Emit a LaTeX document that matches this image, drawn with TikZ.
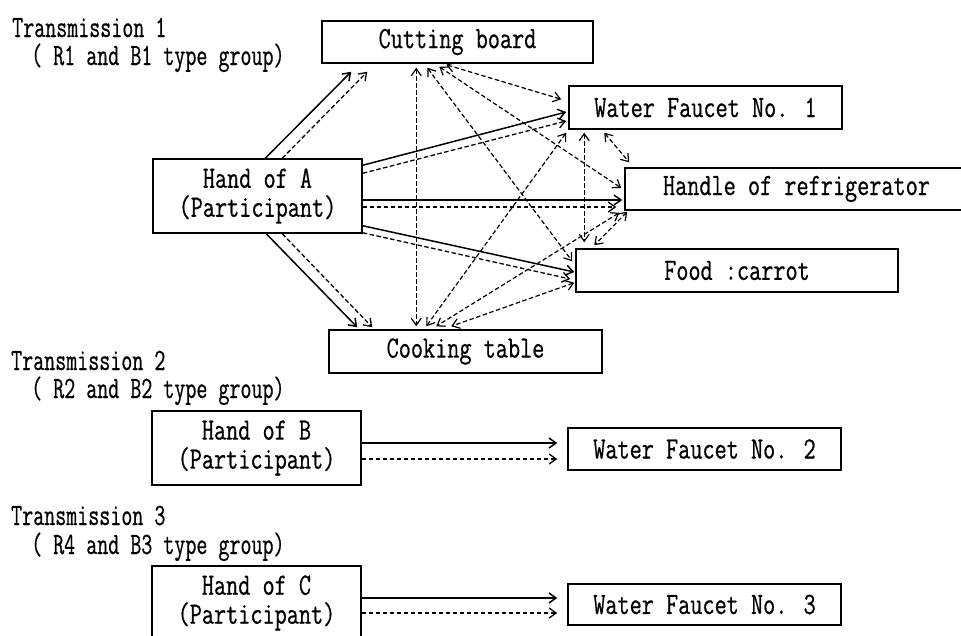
\documentclass[tikz,border=0pt]{standalone}
\usepackage{fontspec}
\newfontfamily\diafont{Latin Modern Mono}[FakeStretch=0.76,FakeBold=0.6]
\newfontfamily\lblfont{Latin Modern Mono}[FakeStretch=0.69,FakeBold=0.6]
\usetikzlibrary{arrows.meta}
\begin{document}
\begin{tikzpicture}[x=1pt,y=-1pt,
  every node/.style={font=\diafont\fontsize{31}{29}\selectfont},
  box/.style={draw, line width=1.5pt, inner sep=0pt, align=center},
  lbl/.style={anchor=base west, inner sep=0pt, text height=19pt, text depth=4pt,
              font=\lblfont\fontsize{31}{29}\selectfont},
  tipb/.tip={Straight Barb[length=7pt,width=10pt]},
  solidarr/.style={line width=1.5pt, -tipb},
  dasharr/.style={line width=1.3pt, dash pattern=on 4.5pt off 2.5pt, -tipb},
  duoarr/.style={line width=1.2pt, dash pattern=on 4.5pt off 2.5pt, tipb-tipb}
]
\useasboundingbox (0,0) rectangle (961,635);
\clip (0,0) rectangle (961,635);

% labels
\node[lbl] (t1) at (12,37) {Transmission 1};
\node[lbl] (g1) at (31,65) {( R1 and B1 type group)};
\node[lbl] (t2) at (11,370) {Transmission 2};
\node[lbl] (g2) at (31,398) {( R2 and B2 type group)};
\node[lbl] (t3) at (11,525) {Transmission 3};
\node[lbl] (g3) at (31,554) {( R4 and B3 type group)};

% boxes
\node[box, minimum width=271pt, minimum height=42pt] (cb) at (457.5,42) {Cutting board};
\node[box, minimum width=273pt, minimum height=43pt] (wf1) at (705.5,107.5) {Water Faucet No. 1};
\node[box, minimum width=343pt, minimum height=42pt] (hr) at (796.5,189) {Handle of refrigerator};
\node[box, minimum width=322pt, minimum height=43pt] (food) at (737,270.5) {Food :carrot};
\node[box, minimum width=273pt, minimum height=43pt] (ct) at (465.5,351.5) {Cooking table};
\node[box, minimum width=209pt, minimum height=74pt] (ha) at (257.5,196) {Hand of A\\(Participant)};
\node[box, minimum width=209pt, minimum height=74pt] (hb) at (256.5,448) {Hand of B\\(Participant)};
\node[box, minimum width=209pt, minimum height=74pt] (hc) at (256.5,603) {Hand of C\\(Participant)};
\node[box, minimum width=273pt, minimum height=42pt] (wf2) at (704.5,449) {Water Faucet No. 2};
\node[box, minimum width=273pt, minimum height=41pt] (wf3) at (704.5,604.5) {Water Faucet No. 3};

% Hand of A -> objects
\draw[solidarr] ([shift={(113,0)}]ha.north west) -- ([shift={(30,8)}]cb.south west);
\draw[dasharr]  ([shift={(130,0)}]ha.north west) -- ([shift={(46,8)}]cb.south west);
\draw[solidarr] ([shift={(0,7)}]ha.north east) -- ([shift={(-2,4.5)}]wf1.west);
\draw[dasharr]  ([shift={(0,15)}]ha.north east) -- ([shift={(-2,13.5)}]wf1.west);
\draw[solidarr] ([shift={(0,4)}]ha.east) -- ([shift={(-2,11)}]hr.west);
\draw[dasharr]  ([shift={(0,11)}]ha.east) -- ([shift={(-8,18)}]hr.west);
\draw[solidarr] ([shift={(0,-8)}]ha.south east) -- ([shift={(-1,1.5)}]food.west);
\draw[dasharr]  ([shift={(0,-1)}]ha.south east) -- ([shift={(-5,8.5)}]food.west);
\draw[solidarr] ([shift={(114,0)}]ha.south west) -- ([shift={(29,-2)}]ct.north west);
\draw[dasharr]  ([shift={(130,0)}]ha.south west) -- ([shift={(44,-2)}]ct.north west);

% object <-> object
\draw[duoarr] ([shift={(125,1)}]cb.south west) -- ([shift={(-7,14)}]wf1.north west);
\draw[duoarr] ([shift={(118,3)}]cb.south west) -- ([shift={(-3,-1)}]hr.west);
\draw[duoarr] ([shift={(106,4)}]cb.south west) -- ([shift={(-3,13)}]food.north west);
\draw[duoarr] ([shift={(95,4)}]cb.south west) -- ([shift={(88,-3)}]ct.north west);
\draw[duoarr] ([shift={(36,3)}]wf1.south west) -- ([shift={(5,-5)}]hr.north west);
\draw[duoarr] ([shift={(16,3)}]wf1.south west) -- ([shift={(9,-6)}]food.north west);
\draw[duoarr] ([shift={(-2,3)}]wf1.south west) -- ([shift={(98,-3)}]ct.north west);
\draw[duoarr] ([shift={(3,1)}]hr.south west) -- ([shift={(19,-3)}]food.north west);
\draw[duoarr] ([shift={(-5,2)}]hr.south west) -- ([shift={(108,-3)}]ct.north west);
\draw[duoarr] ([shift={(-1,-10)}]food.south west) -- ([shift={(123,-3)}]ct.north west);

% Hand of B, C
\draw[solidarr] ([shift={(0,-5)}]hb.east) -- ([shift={(-10,-6)}]wf2.west);
\draw[dasharr]  ([shift={(0,11)}]hb.east) -- ([shift={(-10,10)}]wf2.west);
\draw[solidarr] ([shift={(0,-5)}]hc.east) -- ([shift={(-10,-6.5)}]wf3.west);
\draw[dasharr]  ([shift={(0,10)}]hc.east) -- ([shift={(-10,8.5)}]wf3.west);
\end{tikzpicture}
\end{document}
